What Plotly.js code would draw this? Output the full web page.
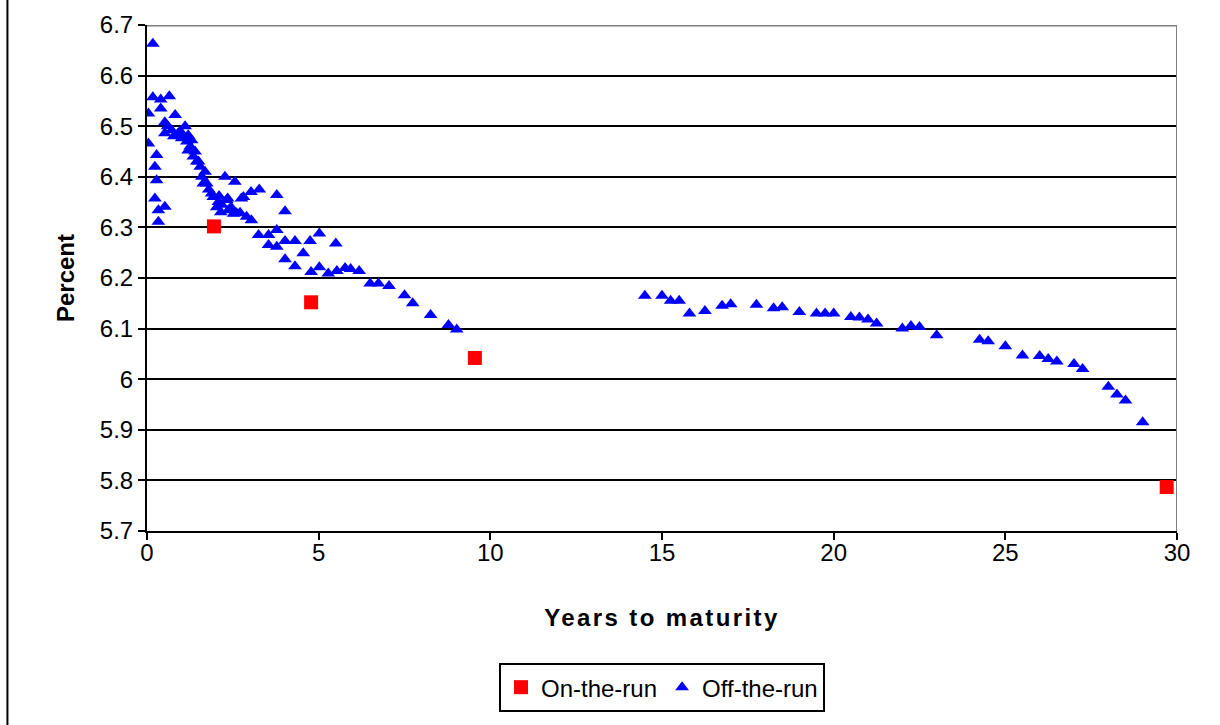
<!DOCTYPE html>
<html>
<head>
<meta charset="utf-8">
<script src="https://cdn.plot.ly/plotly-3.0.1.min.js"></script>
<style>
html,body{margin:0;padding:0;background:#fff;}
#chart{width:1220px;height:725px;}
</style>
</head>
<body>
<div id="chart"></div>
<script>
// On-the-run securities
const onYears = [1.95, 4.78, 9.55, 29.70];
const onYield = [6.302, 6.152, 6.042, 5.787];

// Off-the-run securities
const offYears = [
  0.04, 0.04, 0.17, 0.17, 0.23, 0.23, 0.28, 0.28, 0.33, 0.33,
  0.40, 0.40, 0.52, 0.52, 0.52, 0.65, 0.72, 0.82, 0.91, 1.01,
  1.11, 1.20, 1.20, 1.30, 1.35, 1.45, 1.55, 1.60, 1.64, 1.69,
  1.74, 1.80, 1.88, 1.93, 2.03, 2.08, 2.10, 2.27, 2.32, 2.35,
  2.37, 2.52, 2.56, 2.61, 2.71, 2.75, 2.81, 2.90, 3.03, 3.04,
  3.27, 3.25, 3.54, 3.54, 3.78, 3.78, 3.78, 4.02, 4.02, 4.02,
  4.31, 4.31, 4.55, 4.75, 4.78, 5.02, 5.02, 5.28, 5.50, 5.53,
  5.77, 5.93, 6.18, 6.50, 6.74, 7.05, 7.50, 7.74, 8.26, 8.78,
  9.02,
  0.60, 0.78, 0.97, 1.06, 1.16, 1.26, 1.40, 1.50, 2.18, 2.45, 2.15,
  14.50, 15.00, 15.25, 15.50, 15.80, 16.25, 16.75, 17.00, 17.75, 18.25,
  18.50, 19.00, 19.50, 19.75, 20.00, 20.50, 20.75, 21.00, 21.25, 22.00,
  22.25, 22.50, 23.00, 24.25, 24.50, 25.00, 25.50, 26.00, 26.25, 26.50,
  27.00, 27.25, 28.00, 28.25, 28.50, 29.00
];
const offYield = [
  6.525, 6.466, 6.663, 6.557, 6.420, 6.357, 6.443, 6.393, 6.334, 6.311,
  6.553, 6.535, 6.508, 6.486, 6.341, 6.559, 6.492, 6.522, 6.486, 6.476,
  6.500, 6.482, 6.452, 6.472, 6.440, 6.430, 6.420, 6.400, 6.387, 6.410,
  6.387, 6.375, 6.367, 6.360, 6.340, 6.350, 6.362, 6.400, 6.354, 6.357,
  6.334, 6.327, 6.390, 6.328, 6.329, 6.357, 6.360, 6.321, 6.370, 6.314,
  6.375, 6.285, 6.285, 6.265, 6.364, 6.295, 6.262, 6.332, 6.273, 6.237,
  6.273, 6.223, 6.249, 6.273, 6.212, 6.288, 6.221, 6.209, 6.268, 6.214,
  6.220, 6.218, 6.214, 6.189, 6.189, 6.184, 6.166, 6.150, 6.127, 6.107,
  6.098,
  6.500, 6.480, 6.490, 6.480, 6.470, 6.460, 6.450, 6.430, 6.345, 6.340, 6.330,
  6.165, 6.165, 6.155, 6.155, 6.130, 6.135, 6.145, 6.148, 6.147, 6.140,
  6.142, 6.133, 6.130, 6.130, 6.130, 6.123, 6.122, 6.118, 6.110, 6.100,
  6.105, 6.103, 6.087, 6.078, 6.075, 6.065, 6.047, 6.046, 6.040, 6.035,
  6.030, 6.020, 5.985, 5.970, 5.958, 5.915
];

const xTitle = "Years to maturity";
const yTitle = "Percent";
const seriesNames = ["On-the-run", "Off-the-run"];

const FONT = "Liberation Sans, Arial, Helvetica, sans-serif";

const traces = [
  {
    x: onYears, y: onYield, name: seriesNames[0], type: "scatter", mode: "markers",
    marker: {symbol: "square", size: 14, color: "#ff0000", line: {width: 0}}
  },
  {
    x: offYears, y: offYield, name: seriesNames[1], type: "scatter", mode: "markers",
    marker: {symbol: "triangle-up", size: 12, color: "#0000ff", line: {width: 0}}
  }
];

const layout = {
  width: 1220, height: 725,
  margin: {l: 147, r: 43, t: 25, b: 194, pad: 0},
  paper_bgcolor: "#ffffff", plot_bgcolor: "#ffffff",
  font: {family: FONT, size: 24, color: "#000"},
  showlegend: true,
  xaxis: {
    range: [0, 30], dtick: 5, tick0: 0, showgrid: false, zeroline: false,
    showline: true, linecolor: "#000", linewidth: 2,
    ticks: "outside", ticklen: 7, tickwidth: 2, tickcolor: "#000",
    ticklabelstandoff: -8,
    tickfont: {family: FONT, size: 24, color: "#000"},
    title: {text: "<b>" + xTitle + "</b>", font: {family: FONT, size: 24, color: "#000"}, standoff: 44}
  },
  yaxis: {
    range: [5.7, 6.7], dtick: 0.1, tick0: 5.7, showgrid: true, gridcolor: "#000", gridwidth: 2,
    zeroline: false, showline: true, linecolor: "#000", linewidth: 2,
    ticks: "outside", ticklen: 7, tickwidth: 2, tickcolor: "#000",
    tickfont: {family: FONT, size: 24, color: "#000"},
    title: {text: "<b>" + yTitle + "</b>", font: {family: FONT, size: 24, color: "#000"}, standoff: 18}
  },
  legend: {
    orientation: "h", x: 0.5, xanchor: "center", y: -0.261, yanchor: "top",
    bordercolor: "#000", borderwidth: 2, bgcolor: "#fff",
    font: {family: FONT, size: 24, color: "#000"},
    itemsizing: "trace", tracegroupgap: 0
  },
  shapes: [
    {type: "line", xref: "x", yref: "y", x0: 0, x1: 30, y0: 6.7, y1: 6.7, line: {color: "#808080", width: 3}},
    {type: "line", xref: "x", yref: "y", x0: 30, x1: 30, y0: 5.7, y1: 6.7, line: {color: "#808080", width: 2}},
    {type: "line", xref: "paper", yref: "paper", x0: -0.1355, x1: -0.1355, y0: -1, y1: 2, line: {color: "#000", width: 2}}
  ]
};

Plotly.newPlot("chart", traces, layout, {displayModeBar: false, staticPlot: true}).then(function () {
  const t = document.querySelector("#chart .g-xtitle text");
  if (t) { t.style.letterSpacing = "2.4px"; }
});
</script>
</body>
</html>
